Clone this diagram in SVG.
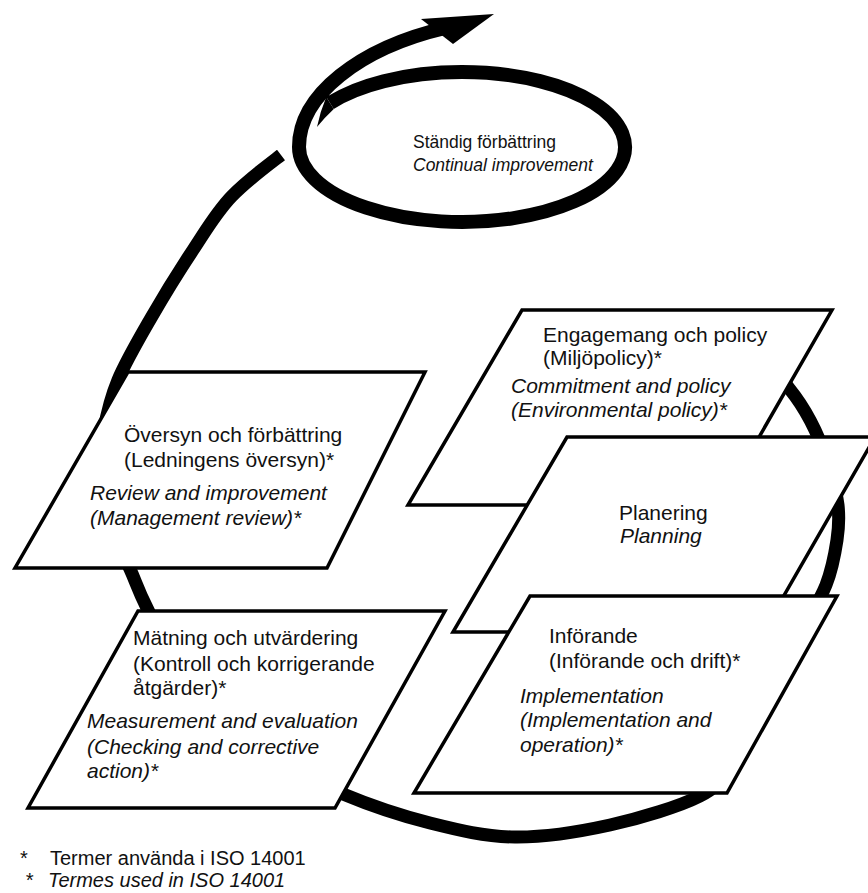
<svg xmlns="http://www.w3.org/2000/svg" width="868" height="893" viewBox="0 0 868 893">
<style>
.band{fill:none;stroke:#000;stroke-width:13;stroke-linecap:butt}
.loop{fill:none;stroke:#000;stroke-width:14;stroke-linecap:butt}
.box{fill:#fff;stroke:#000;stroke-width:3.5;stroke-linejoin:miter}
text{font-family:"Liberation Sans",Arial,sans-serif;font-size:21px;fill:#111}
.it{font-style:italic}
.sm{font-size:17.5px}
.fn{font-size:20px}
</style>
<rect width="868" height="893" fill="#fff"/>
<g id="connectors">
<path class="band" d="M281,155 C272,162 247.7,179.8 232,196 C216.3,212.2 206.5,229.7 193,250 C179.5,270.3 163.5,296.3 151,318 C138.5,339.7 125.8,361.3 118,380 C110.2,398.7 106.8,414.2 104,430 C101.2,445.8 99.8,458.3 101,475 C102.2,491.7 106.2,514.3 111,530 C115.8,545.7 124,556 130,569 C136,582 137,587.8 147,608 C157,628.2 172,666.3 190,690 C208,713.7 229.5,732.7 255,750 C280.5,767.3 313.8,781.8 343,794 C372.2,806.2 401.3,815.8 430,823 C458.7,830.2 485,836.7 515,837 C545,837.3 579.2,831.8 610,825 C640.8,818.2 680,806.2 700,796 C720,785.8 719,780.5 730,764 C741,747.5 754.2,719 766,697 C777.8,675 791,650.7 801,632 C811,613.3 820,600.3 826,585 C832,569.7 835,553.3 837,540 C839,526.7 839.3,517 838,505 C836.7,493 832.8,480.5 829,468 C825.2,455.5 820.7,442 815,430 C809.3,418 803.3,407.3 795,396 C786.7,384.7 777.2,372.8 765,362 C752.8,351.2 729.2,336.2 722,331"/>
<path class="loop" d="M330,103 A163,75 0 1 1 299,147 C299,95 360,48 445,28"/>
<path d="M317,127 Q320,112 326.25,97.1 L333.75,108.9 Q325,117 317,127 Z" fill="#000"/>
<polygon points="421,19 494,14 453,44" fill="#000"/>
</g>
<g id="continual">
<text x="413" y="148" class="sm">Ständig förbättring</text>
<text x="413" y="171" class="sm it">Continual improvement</text>
</g>
<g id="review">
<polygon class="box" points="128,372 425,372 327,568 15,568"/>
<text x="124" y="442">Översyn och förbättring</text>
<text x="124" y="467">(Ledningens översyn)*</text>
<text x="90" y="500" class="it">Review and improvement</text>
<text x="90" y="525" class="it">(Management review)*</text>
</g>
<g id="measurement">
<polygon class="box" points="138,611 445,611 335,808 28,808"/>
<text x="133" y="645">Mätning och utvärdering</text>
<text x="133" y="671">(Kontroll och korrigerande</text>
<text x="133" y="695">åtgärder)*</text>
<text x="87" y="728" class="it">Measurement and evaluation</text>
<text x="87" y="754" class="it">(Checking and corrective</text>
<text x="87" y="778" class="it">action)*</text>
</g>
<g id="commitment">
<polygon class="box" points="522,310 832,310 720,505 408,505"/>
<text x="543" y="342">Engagemang och policy</text>
<text x="543" y="365">(Miljöpolicy)*</text>
<text x="511" y="393" class="it">Commitment and policy</text>
<text x="511" y="417" class="it">(Environmental policy)*</text>
</g>
<g id="planning">
<polygon class="box" points="567,437 875,437 763,632 453,632"/>
<text x="619" y="520">Planering</text>
<text x="620" y="543" class="it">Planning</text>
</g>
<g id="implementation">
<polygon class="box" points="530,596 837,596 727,793 414,793"/>
<text x="549" y="643">Införande</text>
<text x="549" y="668">(Införande och drift)*</text>
<text x="520" y="703" class="it">Implementation</text>
<text x="520" y="727" class="it">(Implementation and</text>
<text x="520" y="752" class="it">operation)*</text>
</g>
<g id="footnote">
<text x="20" y="865" class="fn">*</text>
<text x="50" y="865" class="fn">Termer använda i ISO 14001</text>
<text x="25" y="887" class="fn it">*</text>
<text x="48" y="887" class="fn it">Termes used in ISO 14001</text>
</g>
</svg>
